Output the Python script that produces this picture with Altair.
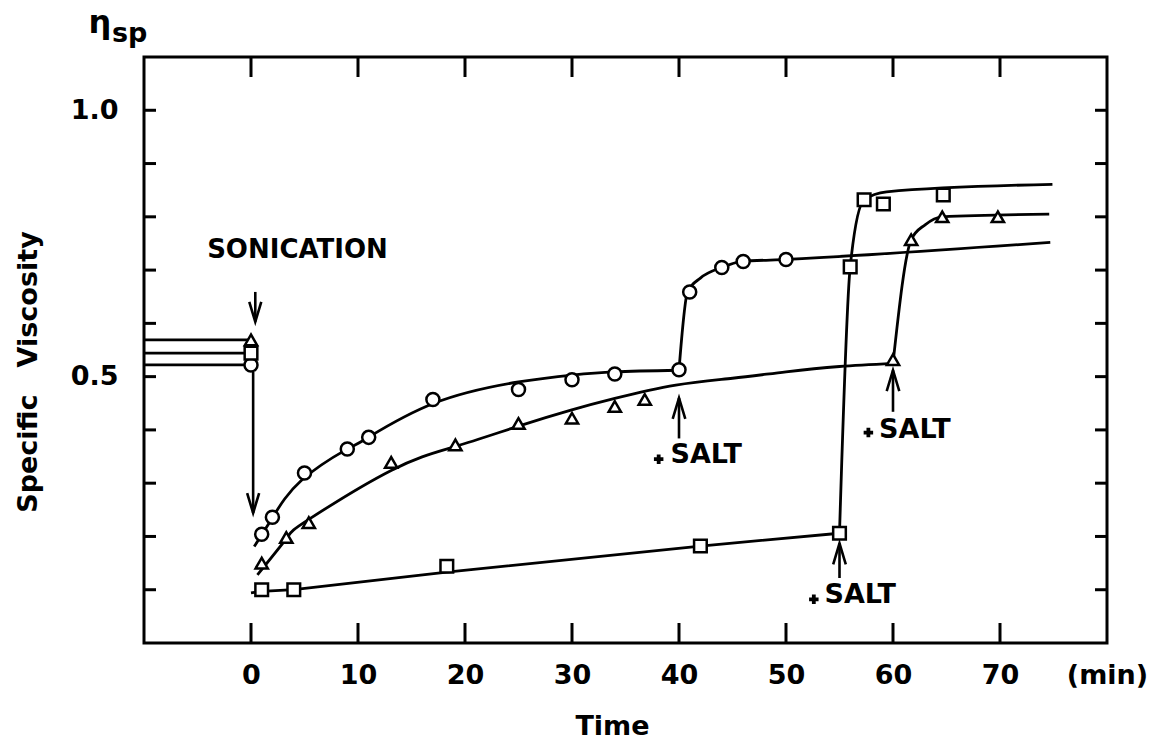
import altair as alt
import pandas as pd

FONT = "DejaVu Sans"
W, H = 963, 586

# axis ticks
x_ticks = [0, 10, 20, 30, 40, 50, 60, 70]
y_ticks = [0.1, 0.2, 0.3, 0.4, 0.5, 0.6, 0.7, 0.8, 0.9, 1.0]
y_labels = [0.5, 1.0]

# viscosity before sonication (drawn at t = 0)
start_series = ["circle", "square", "triangle"]
start_values = [0.522, 0.544, 0.569]

# measured points after sonication
circle_t = [1, 2, 5, 9, 11, 17, 25, 30, 34, 40, 41, 44, 46, 50]
circle_v = [0.204, 0.236, 0.319, 0.364, 0.386, 0.457, 0.476, 0.494, 0.505, 0.513,
            0.659, 0.705, 0.716, 0.720]
square_t = [1, 4, 18.3, 42, 55, 56, 57.3, 59.1, 64.7]
square_v = [0.100, 0.100, 0.144, 0.182, 0.206, 0.706, 0.832, 0.824, 0.841]
triangle_t = [1, 3.3, 5.4, 13.1, 19.1, 25, 30, 34, 36.8, 60, 61.7, 64.6, 69.8]
triangle_v = [0.150, 0.198, 0.226, 0.339, 0.372, 0.412, 0.422, 0.444, 0.457,
              0.532, 0.757, 0.800, 0.800]

# hand-drawn curves, before and after the salt addition
circle_pre_t = [0.3, 2.0, 4.7, 8.9, 10.8, 17.1, 25.0, 30.0, 34.0, 40.0]
circle_pre_v = [0.181, 0.235, 0.305, 0.363, 0.384, 0.450, 0.490, 0.503, 0.509, 0.512]
circle_post_t = [40.0, 40.8, 42.0, 44.0, 45.8, 50.0, 74.7]
circle_post_v = [0.512, 0.659, 0.685, 0.705, 0.716, 0.720, 0.752]
square_pre_t = [0.0, 1.0, 4.0, 18.3, 42.0, 55.0]
square_pre_v = [0.094, 0.097, 0.100, 0.133, 0.182, 0.206]
square_post_t = [55.0, 56.0, 57.3, 59.4, 74.9]
square_post_v = [0.206, 0.706, 0.832, 0.847, 0.861]
triangle_pre_t = [0.6, 3.3, 5.4, 13.1, 19.1, 25.0, 29.9, 34.0, 39.7,
                  45.0, 50.0, 55.0, 60.0]
triangle_pre_v = [0.128, 0.196, 0.232, 0.324, 0.369, 0.407, 0.437, 0.459,
                  0.484, 0.497, 0.509, 0.519, 0.525]
triangle_post_t = [60.0, 61.7, 63.0, 64.6, 74.6]
triangle_post_v = [0.525, 0.757, 0.785, 0.800, 0.805]

# arrows: x position, tail and tip values
down_arrow_t = [0.2, 0.4]
down_arrow_tail = [0.510, 0.659]
down_arrow_tip = [0.244, 0.603]
salt_arrow_t = [40.0, 55.0, 60.0]
salt_arrow_tail = [0.384, 0.122, 0.434]
salt_arrow_tip = [0.460, 0.187, 0.512]

# "+SALT" annotations
salt_text_t = [39.2, 53.6, 58.7]
salt_text_v = [0.352, 0.090, 0.400]
salt_plus_t = [38.1, 52.6, 57.7]
salt_plus_v = [0.345, 0.082, 0.395]

sonication_t, sonication_v = -4.1, 0.737

# ---- tables ----
def seg(ts, vs, name):
    return pd.DataFrame({"t": ts, "v": vs, "series": name})


smooth_curves = pd.concat([
    seg(circle_pre_t, circle_pre_v, "circle"),
    seg(triangle_pre_t, triangle_pre_v, "triangle"),
])
jump_curves = pd.concat([
    seg(circle_post_t, circle_post_v, "circle"),
    seg(square_post_t, square_post_v, "square"),
    seg(triangle_post_t, triangle_post_v, "triangle"),
])
straight_curve = seg(square_pre_t, square_pre_v, "square")

points = pd.concat([
    pd.DataFrame({"t": [0] * 3, "v": start_values, "series": start_series}),
    seg(circle_t, circle_v, "circle"),
    seg(square_t, square_v, "square"),
    seg(triangle_t, triangle_v, "triangle"),
])
start_df = pd.DataFrame({"t0": [-10] * 3, "t1": [0] * 3, "v": start_values})
shafts = pd.DataFrame({
    "t": down_arrow_t + salt_arrow_t,
    "v1": down_arrow_tail + salt_arrow_tail,
    "v2": down_arrow_tip + salt_arrow_tip,
})
down_heads = pd.DataFrame({"t": down_arrow_t, "v": down_arrow_tip})
up_heads = pd.DataFrame({"t": salt_arrow_t, "v": salt_arrow_tip})
salt_df = pd.DataFrame({"t": salt_text_t, "v": salt_text_v, "s": ["SALT"] * 3})
plus_df = pd.DataFrame({"t": salt_plus_t, "v": salt_plus_v})
son_df = pd.DataFrame({"t": [sonication_t], "v": [sonication_v], "s": ["SONICATION"]})
xt_df = pd.DataFrame({"t": x_ticks})
yt_df = pd.DataFrame({"v": y_ticks})

# ---- scales and axes ----
xs = alt.Scale(domain=[-10, 80], nice=False, zero=False)
ys = alt.Scale(domain=[0, 1.1], nice=False, zero=False)

x_axis = alt.Axis(
    values=x_ticks + [80],
    labelExpr="datum.value == 80 ? '(min)' : datum.label",
    ticks=False, domain=False, grid=False,
    labelFont=FONT, labelFontSize=27, labelFontWeight="bold", labelColor="black",
    labelPadding=19, labelFlush=False, labelOverlap=False,
    title="Time", titleFont=FONT, titleFontSize=27, titleFontWeight="bold",
    titleColor="black", titleX=468, titleY=83, titleAlign="center",
    titleBaseline="middle",
)
y_axis = alt.Axis(
    values=y_labels, format=".1f",
    ticks=False, domain=False, grid=False,
    labelFont=FONT, labelFontSize=27, labelFontWeight="bold", labelColor="black",
    labelPadding=26, labelOverlap=False,
    title="Specific\u2003Viscosity", titleFont=FONT, titleFontSize=27,
    titleFontWeight="bold", titleColor="black", titleX=-116, titleY=314.5,
    titleAlign="center", titleBaseline="middle", titleAngle=270,
)


def X(field="t"):
    return alt.X(field, type="quantitative", scale=xs, axis=x_axis)


def Y(field="v"):
    return alt.Y(field, type="quantitative", scale=ys, axis=y_axis)


LW = 2.8

smooth_lines = alt.Chart(smooth_curves).mark_line(
    color="black", strokeWidth=LW, interpolate="natural"
).encode(x=X(), y=Y(), detail="series:N")
jump_lines = alt.Chart(jump_curves).mark_line(
    color="black", strokeWidth=LW, interpolate="monotone"
).encode(x=X(), y=Y(), detail="series:N")
straight_line = alt.Chart(straight_curve).mark_line(
    color="black", strokeWidth=LW, interpolate="linear"
).encode(x=X(), y=Y())

start_lines = alt.Chart(start_df).mark_rule(color="black", strokeWidth=LW).encode(
    x=X("t0"), x2="t1", y=Y()
)

markers = alt.Chart(points).mark_point(
    filled=True, fill="white", stroke="black", strokeWidth=2.5, opacity=1
).encode(
    x=X(), y=Y(),
    shape=alt.Shape("series:N", scale=alt.Scale(
        domain=["circle", "square", "triangle"],
        range=["circle", "square", "triangle-up"]), legend=None),
    size=alt.Size("series:N", scale=alt.Scale(
        domain=["circle", "square", "triangle"], range=[170, 150, 340]), legend=None),
)

arrow_shafts = alt.Chart(shafts).mark_rule(color="black", strokeWidth=2.6).encode(
    x=X(), y=Y("v1"), y2="v2"
)
down_tips = alt.Chart(down_heads).mark_point(
    shape="M-0.6,-2L0,0L0.6,-2", size=400, filled=False, stroke="black",
    strokeWidth=2.6, opacity=1
).encode(x=X(), y=Y())
up_tips = alt.Chart(up_heads).mark_point(
    shape="M-0.6,2L0,0L0.6,2", size=441, filled=False, stroke="black",
    strokeWidth=2.6, opacity=1
).encode(x=X(), y=Y())

bottom_ticks = alt.Chart(xt_df).mark_rule(color="black", strokeWidth=3).encode(
    x=X(), y=alt.value(H), y2=alt.value(H - 20)
)
top_ticks = alt.Chart(xt_df).mark_rule(color="black", strokeWidth=3).encode(
    x=X(), y=alt.value(0), y2=alt.value(20)
)
left_ticks = alt.Chart(yt_df).mark_rule(color="black", strokeWidth=3).encode(
    y=Y(), x=alt.value(0), x2=alt.value(12)
)
right_ticks = alt.Chart(yt_df).mark_rule(color="black", strokeWidth=3).encode(
    y=Y(), x=alt.value(W - 12), x2=alt.value(W)
)

son_text = alt.Chart(son_df).mark_text(
    font=FONT, fontSize=26, fontWeight="bold", align="left", baseline="middle",
    color="black"
).encode(x=X(), y=Y(), text="s:N")
salt_text = alt.Chart(salt_df).mark_text(
    font=FONT, fontSize=27, fontWeight="bold", align="left", baseline="middle",
    color="black"
).encode(x=X(), y=Y(), text="s:N")
salt_plus = alt.Chart(plus_df).mark_point(
    shape="cross", filled=True, size=90, color="black", opacity=1
).encode(x=X(), y=Y())

eta = alt.Chart(pd.DataFrame({"s": ["\u03b7"]})).mark_text(
    font=FONT, fontSize=32, fontWeight="bold", align="center",
    baseline="alphabetic", color="black"
).encode(text="s:N", x=alt.value(-44), y=alt.value(-24))
eta_sub = alt.Chart(pd.DataFrame({"s": ["sp"]})).mark_text(
    font=FONT, fontSize=27, fontWeight="bold", align="left",
    baseline="alphabetic", color="black"
).encode(text="s:N", x=alt.value(-32), y=alt.value(-15))

chart = alt.layer(
    start_lines, smooth_lines, jump_lines, straight_line,
    arrow_shafts, down_tips, up_tips,
    bottom_ticks, top_ticks, left_ticks, right_ticks,
    markers, son_text, salt_text, salt_plus, eta, eta_sub,
).properties(
    width=W, height=H,
    autosize=alt.AutoSizeParams(type="none"),
    padding={"left": 144, "top": 57, "right": 56, "bottom": 100},
    background="white",
).configure_view(stroke="black", strokeWidth=3)

chart.save("out.html", embed_options={"renderer": "svg", "actions": False})
